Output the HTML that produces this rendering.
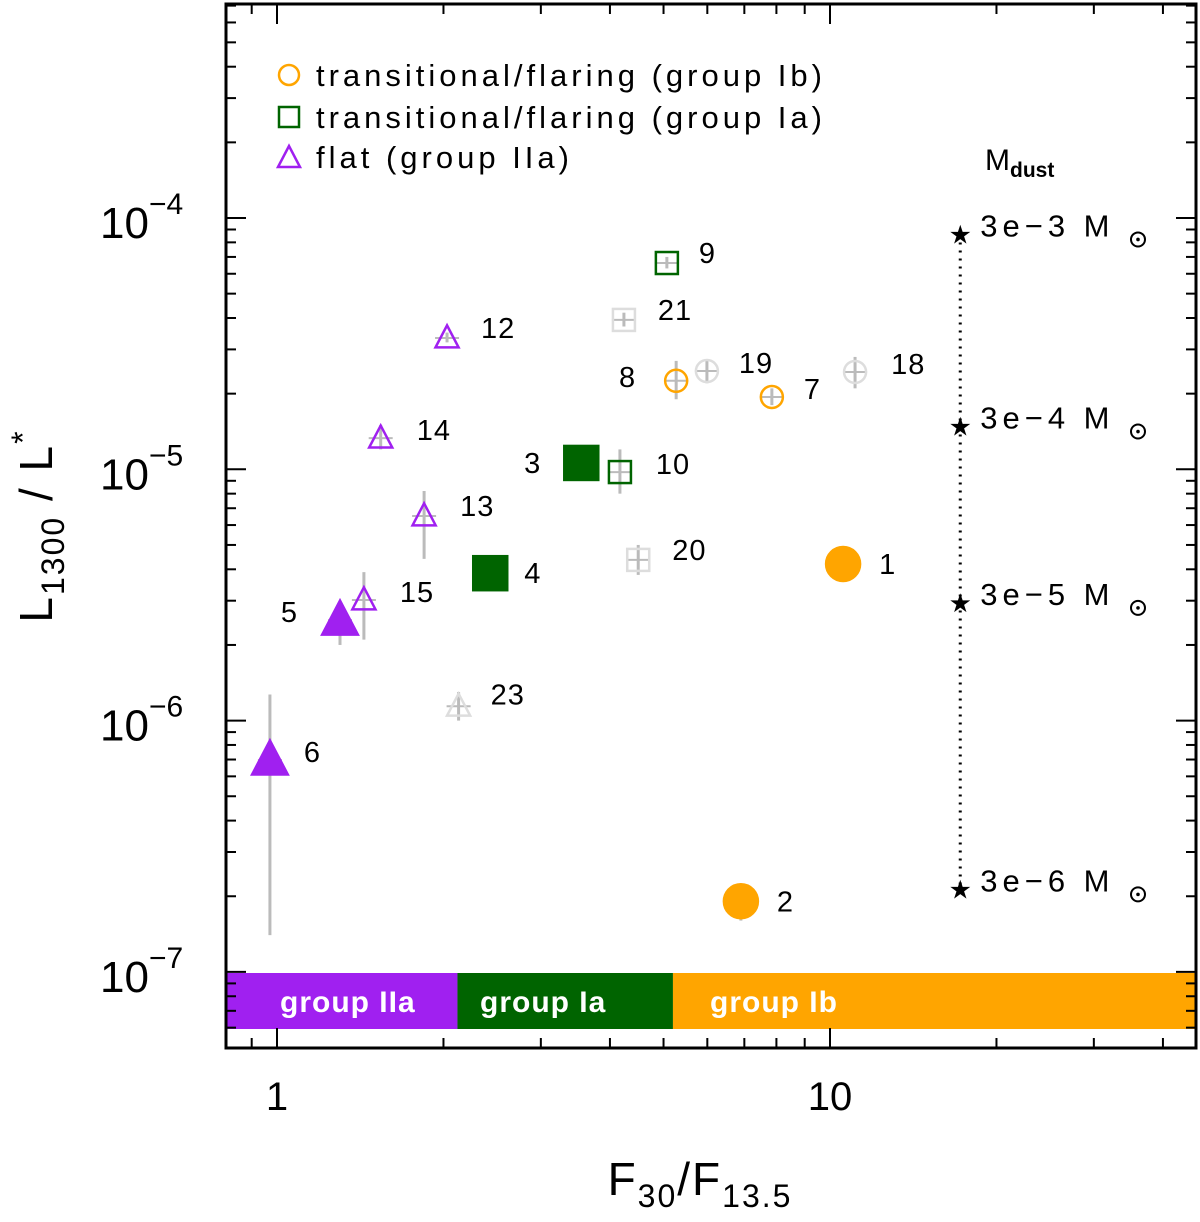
<!DOCTYPE html>
<html><head><meta charset="utf-8"><style>
body{margin:0;background:#fff}
svg{display:block;font-family:"Liberation Sans",sans-serif}
</style></head><body>
<svg id="c" width="1200" height="1222" viewBox="0 0 1200 1222">
<rect x="0" y="0" width="1200" height="1222" fill="#fff"/>
<g id="band"></g>
<g id="ticks"></g>
<g id="errs"></g>
<g id="marks"></g>
<g id="labels"></g>
<g id="dust"></g>
<rect x="226" y="4" width="970" height="1044" fill="none" stroke="#000" stroke-width="3"/>
<g font-size="31" fill="#000">
 <circle cx="289" cy="75" r="10" fill="none" stroke="#FFA500" stroke-width="2.5"/>
 <text x="316" y="86" letter-spacing="4">transitional/flaring (group Ib)</text>
 <rect x="279" y="107" width="20" height="20" fill="none" stroke="#006400" stroke-width="2.5"/>
 <text x="316" y="128" letter-spacing="4">transitional/flaring (group Ia)</text>
 <polygon points="289,146 300,167 278,167" fill="none" stroke="#A020F0" stroke-width="2.5"/>
 <text x="316" y="168" letter-spacing="4">flat (group IIa)</text>
</g>
<text x="985" y="170" font-size="30">M<tspan font-size="21" font-weight="bold" dy="7">dust</tspan></text>
<text transform="translate(52,526) rotate(-90)" text-anchor="middle" font-size="46" letter-spacing="2">L<tspan font-size="32" dy="12">1300</tspan><tspan dy="-12"> / L</tspan><tspan font-size="32" dy="-18">*</tspan></text>
<text x="700" y="1195" text-anchor="middle" font-size="46" letter-spacing="2">F<tspan font-size="32" dy="12">30</tspan><tspan dy="-12">/F</tspan><tspan font-size="32" dy="12">13.5</tspan></text>
</svg>
<script>
const ids=["1","2","3","4","5","6","7","8","9","10","12","13","14","15","18","19","20","21","23"];
const xs=[10.56,6.9,3.55,2.43,1.30,0.971,7.85,5.27,5.07,4.17,2.03,1.845,1.54,1.436,11.1,5.99,4.50,4.24,2.13];
const ys=[4.2e-6,1.91e-7,1.06e-5,3.86e-6,2.51e-6,6.97e-7,1.94e-5,2.25e-5,6.62e-5,9.75e-6,3.33e-5,6.52e-6,1.33e-5,3.02e-6,2.44e-5,2.46e-5,4.36e-6,3.93e-5,1.14e-6];
const yLo=[4.1e-6,1.6e-7,1.0e-5,3.7e-6,2.0e-6,1.4e-7,1.8e-5,1.9e-5,6.3e-5,8.0e-6,3.2e-5,4.4e-6,1.2e-5,2.1e-6,2.1e-5,2.2e-5,3.8e-6,3.7e-5,1.0e-6];
const yHi=[4.3e-6,2.2e-7,1.1e-5,4.0e-6,2.8e-6,1.27e-6,2.1e-5,2.7e-5,7.0e-5,1.2e-5,3.5e-5,8.2e-6,1.5e-5,3.9e-6,2.8e-5,2.7e-5,5.0e-6,4.2e-5,1.3e-6];
const shapes=["circle","circle","square","square","triangle","triangle","circle","circle","square","square","triangle","triangle","triangle","triangle","circle","circle","square","square","triangle"];
const kinds=["filled","filled","filled","filled","filled","filled","open","open","open","open","open","open","open","open","gray","gray","gray","gray","gray"];
const dustX=17.2;
const dustY=[8.6e-5,1.48e-5,2.94e-6,2.13e-7];
const dustLabels=["3e−3 M","3e−4 M","3e−5 M","3e−6 M"];
const bandNames=["group IIa","group Ia","group Ib"];
const bandEdges=[0.809,2.12,5.2,45.9];
const xTickMajor=[1,10];
const yTickMajor=[-4,-5,-6,-7];

const NS="http://www.w3.org/2000/svg";
function X(v){return 277+553*Math.log10(v);}
function Y(v){return 218-251.3*(Math.log10(v)+4);}
function el(tag,attrs,parent){const e=document.createElementNS(NS,tag);for(const k in attrs)e.setAttribute(k,attrs[k]);parent.appendChild(e);return e;}
const colors={circle:"#FFA500",square:"#006400",triangle:"#A020F0"};

const band=document.getElementById('band');
const bcol=["#A020F0","#006400","#FFA500"];
for(let i=0;i<3;i++){
 const x0=Math.max(226,X(bandEdges[i])),x1=Math.min(1196,X(bandEdges[i+1]));
 const r=el('rect',{x:x0,y:973,width:x1-x0,height:56,fill:bcol[i]},band);
 
 
 const t=el('text',{x:[280,480,710][i],y:1012,fill:"#fff","font-size":30,"font-weight":"bold","letter-spacing":1},band);
 t.textContent=bandNames[i];
 
 
}

const tg=document.getElementById('ticks');
function line(x1,y1,x2,y2,w,p,c){return el('line',{x1,y1,x2,y2,stroke:c||"#000","stroke-width":w||2},p);}
for(let d=0;d<2;d++){for(let m=1;m<10;m++){const v=Math.pow(10,d)*m;if(v<0.81||v>45.9)continue;const x=X(v);const L=m===1?20:10;line(x,1048,x,1048-L,2,tg);line(x,4,x,4+L,2,tg);}}
{const x=X(0.9);line(x,1048,x,1038,2,tg);line(x,4,x,14,2,tg);}
for(let d=-8;d<=-3;d++){for(let m=1;m<10;m++){const v=Math.pow(10,d)*m;const y=Y(v);if(y<4||y>1048)continue;const L=m===1?20:10;line(226,y,226+L,y,2,tg);line(1196,y,1196-L,y,2,tg);}}
xTickMajor.forEach(v=>{const t=el('text',{x:X(v),y:1110,"text-anchor":"middle","font-size":40},tg);t.textContent=String(v);});
yTickMajor.forEach(p=>{const t=el('text',{x:100,y:Y(Math.pow(10,p))+20,"font-size":44},tg);t.innerHTML='10<tspan font-size="30" dy="-24">−'+(-p)+'</tspan>';});

const eg=document.getElementById('errs'),mg=document.getElementById('marks'),lg=document.getElementById('labels');
const lblOff={"1":[36,0],"2":[36,0],"3":[-40,0],"4":[34,0],"5":[-42,-8],"6":[34,-8],"7":[32,-8],"8":[-40,-4],"9":[32,-10],"10":[36,-8],"12":[34,-10],"13":[36,-10],"14":[36,-8],"15":[36,-8],"18":[36,-8],"19":[32,-8],"20":[34,-10],"21":[34,-10],"23":[32,-12]};
for(let i=0;i<ids.length;i++){
 const cx=X(xs[i]),cy=Y(ys[i]);
 const e=line(cx,Y(yHi[i]),cx,Y(yLo[i]),3,eg,"#bbb");
 
 
 line(cx-12,cy,cx+12,cy,2,eg,"#bbb");
 const k=kinds[i],s=shapes[i];
 const col=k==="gray"?"#ddd":colors[s];
 const fill=k==="filled"?col:"none";
 const sz=k==="filled"?17:11;
 let m;
 if(s==="circle")m=el('circle',{cx,cy,r:sz,fill,stroke:col,"stroke-width":2.5},mg);
 else if(s==="square")m=el('rect',{x:cx-sz,y:cy-sz,width:2*sz,height:2*sz,fill,stroke:col,"stroke-width":2.5},mg);
 else m=el('polygon',{points:`${cx},${cy-sz*1.15} ${cx+sz*1.05},${cy+sz*0.85} ${cx-sz*1.05},${cy+sz*0.85}`,fill,stroke:col,"stroke-width":2.5},mg);
 
 
 const o=lblOff[ids[i]]||[34,-8];
 const t=el('text',{x:cx+o[0],y:cy+o[1]+10,"font-size":29,"letter-spacing":1,"text-anchor":o[0]<0?"end":"start"},lg);
 t.textContent=ids[i];
 
 
}

const dg=document.getElementById('dust');
const dx=X(dustX);
const dl=el('line',{x1:dx,y1:Y(dustY[0]),x2:dx,y2:Y(dustY[3]),stroke:"#000","stroke-width":3,"stroke-dasharray":"2,6"},dg);


dustY.forEach((v,i)=>{
 const y=Y(v);
 const s=el('text',{x:dx,y:y+9,"font-size":26,"text-anchor":"middle"},dg);s.textContent='★';
 
 
 const t=el('text',{x:dx+20,y:y+2,"font-size":31,"letter-spacing":5},dg);t.textContent=dustLabels[i];
 
 
 el('circle',{cx:1138,cy:y+5,r:7,fill:"none",stroke:"#000","stroke-width":2},dg);
 el('circle',{cx:1138,cy:y+5,r:1.8,fill:"#000"},dg);
});
</script>
</body></html>
